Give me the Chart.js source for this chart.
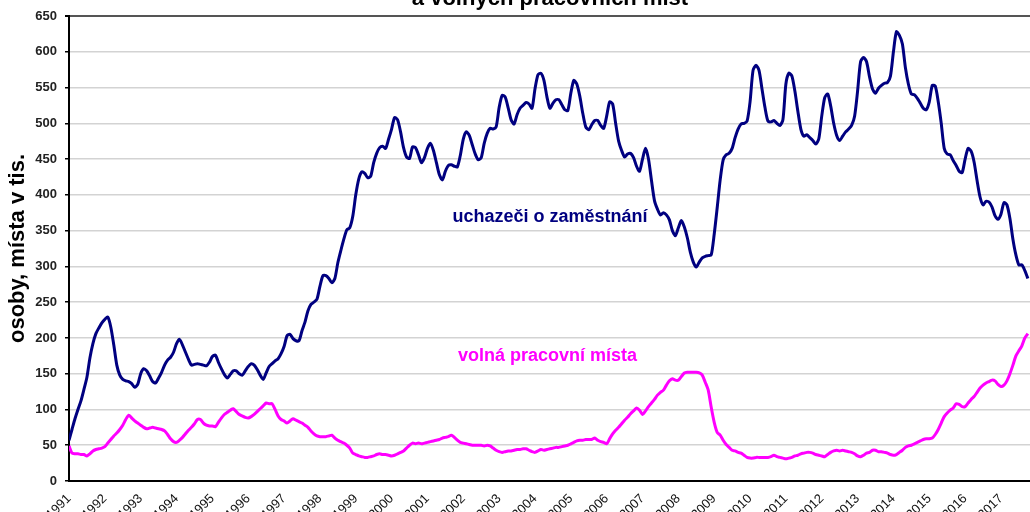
<!DOCTYPE html>
<html lang="cs">
<head>
<meta charset="utf-8">
<title>Uchazeči o zaměstnání a volná pracovní místa</title>
<script src="https://cdn.jsdelivr.net/npm/chart.js@4"></script>
<style>
  html, body { margin: 0; padding: 0; background: #fff; }
  #wrap { width: 1030px; height: 512px; }
</style>
</head>
<body>
<div id="wrap"><canvas id="graf" width="1030" height="512"></canvas></div>
<script>
// roky na ose x (popisky)
const prvniRok = 1991;
const roky = [1991, 1992, 1993, 1994, 1995, 1996, 1997, 1998, 1999, 2000, 2001, 2002, 2003, 2004,
              2005, 2006, 2007, 2008, 2009, 2010, 2011, 2012, 2013, 2014, 2015, 2016, 2017];

// uchazeči o zaměstnání (tis.), měsíčně od ledna 1991
const uchazeci = [
    57, 72, 87, 100, 112, 128, 145, 172, 192, 206, 214, 221,
    226, 229, 215, 190, 162, 148, 142, 140, 139, 136, 131, 135,
    150, 157, 154, 147, 139, 137, 144, 152, 162, 169, 173, 180,
    192, 198, 190, 180, 170, 162, 163, 164, 163, 162, 161, 166,
    174, 176, 166, 157, 149, 144, 149, 154, 154, 150, 148, 154,
    160, 164, 162, 156, 148, 142, 151, 160, 164, 168, 171, 178,
    188, 203, 205, 199, 196, 196, 210, 222, 238, 247, 250, 254,
    272, 287, 287, 283, 277, 283, 305, 322, 338, 351, 354, 370,
    400, 422, 432, 430, 424, 426, 445, 458, 466, 468, 465, 478,
    492, 508, 505, 488, 466, 453, 451, 467, 466, 456, 445, 452,
    465, 472, 462, 445, 428, 421, 433, 441, 442, 440, 439, 455,
    478, 488, 483, 470, 457, 449, 452, 472, 486, 493, 492, 495,
    522, 539, 537, 522, 505, 499, 512, 521, 525, 529, 527, 521,
    548, 568, 570, 560, 537, 521, 528, 533, 533, 526, 519, 518,
    542, 560, 555, 538, 514, 495, 491, 498, 504, 504, 497, 493,
    510, 530, 527, 500, 475, 462, 453, 457, 458, 452, 440, 433,
    450, 465, 450, 420, 392, 380, 372, 375, 372, 365, 350, 343,
    354, 364, 355, 340, 320, 306, 299, 306, 312, 314, 315, 316,
    345, 382, 421, 449, 456, 458, 465, 480, 492, 499, 500, 503,
    530, 574, 581, 574, 548, 522, 503, 502, 504, 500, 497, 505,
    555, 570, 566, 545, 517, 492, 482, 484, 480, 476, 471, 478,
    510, 536, 541, 524, 500, 483, 476, 482, 488, 492, 497, 510,
    545, 586, 592, 586, 565, 548, 542, 549, 553, 556, 557, 566,
    600, 628, 623, 611, 578, 555, 541, 540, 535, 528, 521, 519,
    530, 553, 552, 530, 500, 465, 457, 456, 448, 441, 433, 431,
    450, 465, 461, 446, 420, 397, 386, 391, 390, 383, 371, 366,
    373, 389, 386, 367, 338, 316, 302, 302, 294, 283
];

// volná pracovní místa (tis.), měsíčně od ledna 1991
const volnaMista = [
    49, 39, 38, 38, 37, 37, 35, 38, 42, 44, 45, 46,
    48, 53, 58, 63, 67, 72, 78, 86, 92, 88, 84, 81,
    78, 75, 73, 74, 75, 74, 73, 72, 70, 65, 59, 55,
    54, 57, 61, 66, 71, 75, 80, 86, 86, 81, 78, 77,
    77, 76, 82, 88, 93, 96, 99, 101, 97, 93, 91, 89,
    88, 90, 93, 97, 101, 105, 109, 108, 108, 100, 91, 86,
    84, 81, 84, 87, 85, 83, 81, 78, 75, 70, 66, 63,
    62, 62, 62, 63, 64, 60, 57, 55, 53, 50, 46, 39,
    37, 35, 34, 33, 33, 34, 35, 37, 38, 37, 37, 36,
    35, 36, 38, 40, 42, 46, 50, 53, 52, 53, 52, 53,
    54, 55, 56, 57, 58, 60, 61, 62, 64, 61, 57, 54,
    53, 52, 51, 50, 50, 50, 50, 49, 50, 49, 46, 43,
    41, 40, 41, 42, 42, 43, 44, 44, 45, 45, 43, 41,
    40, 42, 44, 43, 44, 45, 46, 47, 47, 48, 49, 50,
    52, 54, 56, 57, 57, 58, 58, 58, 60, 57, 55, 54,
    52, 59, 66, 71, 75, 80, 85, 89, 94, 98, 102, 99,
    93, 98, 104, 109, 114, 120, 124, 127, 134, 140, 143, 141,
    141, 146, 151, 152, 152, 152, 152, 151, 148, 138, 127, 103,
    82, 68, 64, 57, 51, 47, 43, 42, 40, 39, 36, 33,
    32, 32, 33, 33, 33, 33, 33, 34, 36, 34, 33, 32,
    31, 32, 33, 35, 36, 38, 39, 40, 40, 39, 37, 36,
    35, 34, 37, 40, 42, 43, 42, 43, 42, 41, 40, 38,
    35, 34, 36, 39, 40, 43, 43, 41, 41, 40, 39, 37,
    36, 37, 40, 43, 47, 49, 50, 52, 54, 56, 58, 59,
    59, 60, 65, 72, 81, 90, 95, 99, 102, 108, 107, 104,
    104, 109, 114, 118, 124, 130, 134, 137, 139, 141, 140, 135,
    132, 134, 140, 150, 162, 175, 182, 189, 200, 206
];

const pismo = "'Liberation Sans', Arial, sans-serif";

// mesicni hodnoty -> body {x: rok, y: hodnota}
function body(hodnoty) {
    return hodnoty.map((v, i) => ({ x: prvniRok + i / 12, y: v }));
}

// nadpis (orezany nahore) a popisky rad primo v grafu
const popisky = {
    id: "popisky",
    afterDraw(chart) {
        const ctx = chart.ctx;
        const sx = chart.scales.x;
        const sy = chart.scales.y;
        ctx.save();
        ctx.textBaseline = "alphabetic";
        ctx.font = "bold 22px " + pismo;
        ctx.fillStyle = "#000";
        ctx.textAlign = "center";
        ctx.fillText("a volných pracovních míst", 550, 5);

        ctx.font = "bold 18px " + pismo;
        ctx.textAlign = "left";
        ctx.fillStyle = "#000080";
        ctx.fillText("uchazeči o zaměstnání", sx.getPixelForValue(2001.7), sy.getPixelForValue(362));
        ctx.fillStyle = "#ff00ff";
        ctx.fillText("volná pracovní místa", sx.getPixelForValue(2001.85), sy.getPixelForValue(168));
        ctx.restore();
    }
};

const ctx = document.getElementById("graf").getContext("2d");
new Chart(ctx, {
    type: "line",
    data: {
        datasets: [
            {
                label: "uchazeči o zaměstnání",
                data: body(uchazeci),
                borderColor: "#000080",
                borderWidth: 3,
                pointRadius: 0,
                tension: 0.25
            },
            {
                label: "volná pracovní místa",
                data: body(volnaMista),
                borderColor: "#ff00ff",
                borderWidth: 3,
                pointRadius: 0,
                tension: 0.25
            }
        ]
    },
    options: {
        responsive: false,
        animation: false,
        layout: { padding: { top: 16, right: 0, bottom: 0, left: 0 } },
        plugins: {
            legend: { display: false },
            tooltip: { enabled: false }
        },
        scales: {
            x: {
                type: "linear",
                min: 1991,
                max: 2017.81,
                afterBuildTicks: scale => {
                    scale.ticks = roky.map(r => ({ value: r }));
                },
                afterFit: scale => { scale.height = 31; },
                grid: { display: false, drawTicks: false },
                border: { display: true, color: "#000", width: 2 },
                ticks: {
                    autoSkip: false,
                    minRotation: 45,
                    maxRotation: 45,
                    padding: 10,
                    color: "#111",
                    font: { family: pismo, size: 13 },
                    callback: v => String(v)
                }
            },
            y: {
                min: 0,
                max: 650,
                afterFit: scale => { scale.width = 69; },
                grid: {
                    color: c => (c.tick && c.tick.value === 650 ? "#555" : "#d3d3d3"),
                    lineWidth: c => (c.tick && c.tick.value === 650 ? 2 : 1.5),
                    tickColor: "#000",
                    tickLength: 4
                },
                border: { display: true, color: "#000", width: 2 },
                ticks: {
                    stepSize: 50,
                    padding: 8,
                    color: "#222",
                    font: { family: pismo, size: 13, weight: "bold" }
                },
                title: {
                    display: true,
                    text: "osoby, místa v tis.",
                    color: "#000",
                    font: { family: pismo, size: 22, weight: "bold" },
                    padding: { top: 5, bottom: 0 }
                }
            }
        }
    },
    plugins: [popisky]
});
</script>
</body>
</html>
